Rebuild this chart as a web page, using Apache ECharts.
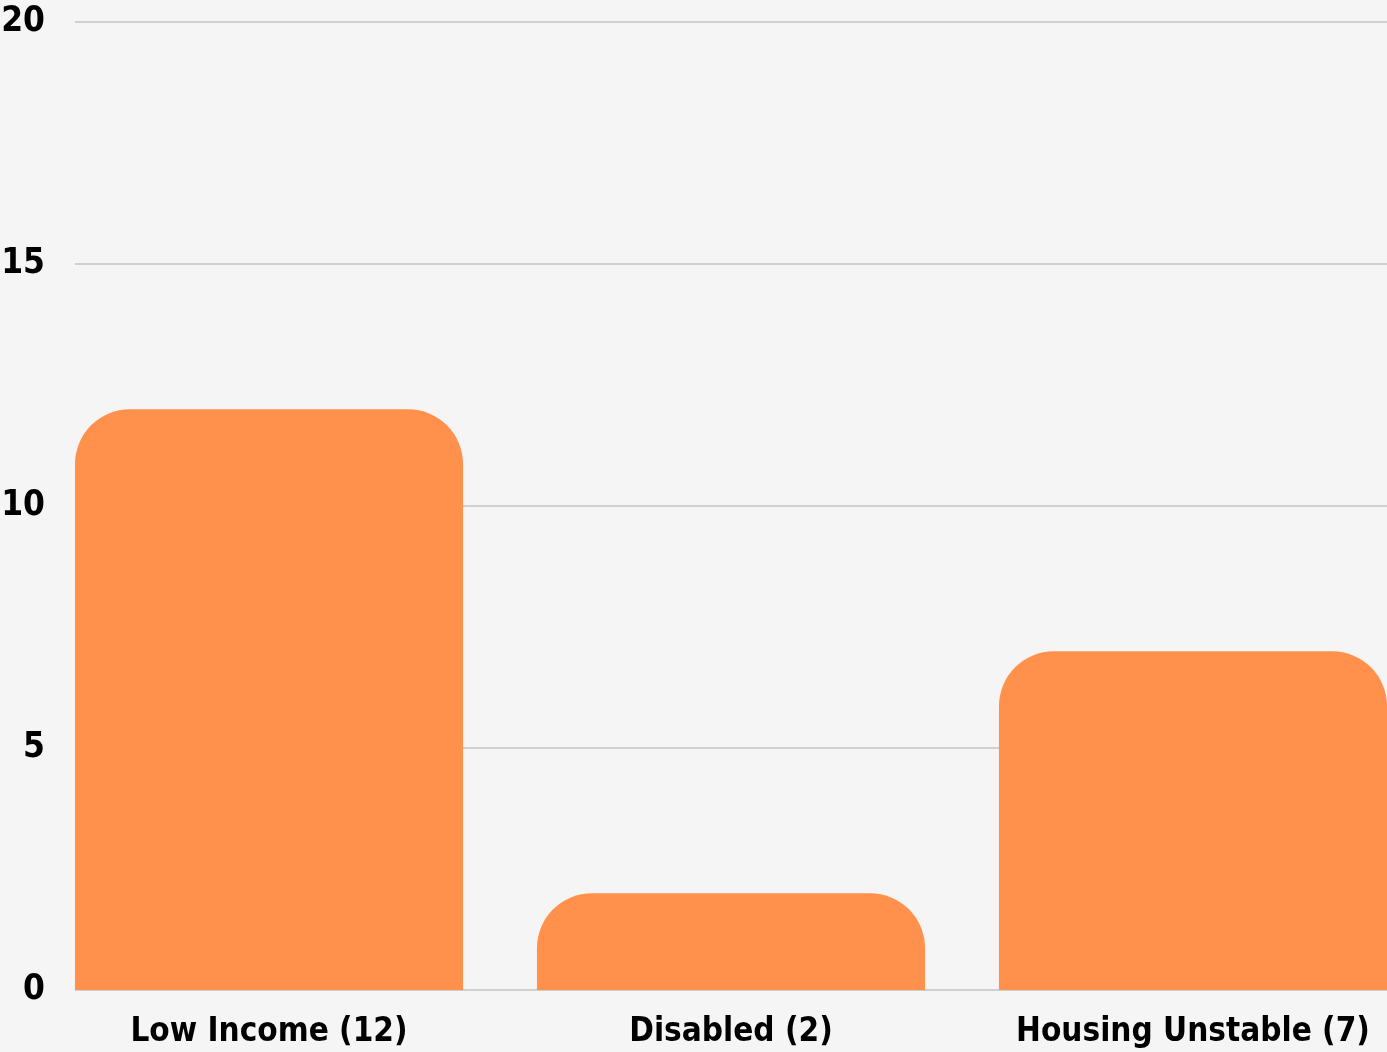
<!DOCTYPE html>
<html>
<head>
<meta charset="utf-8">
<script src="https://cdn.jsdelivr.net/npm/echarts@6/dist/echarts.min.js"></script>
<style>
  html, body { margin: 0; padding: 0; background: #f5f5f5; }
  #chart { width: 1387px; height: 1052px; }
</style>
</head>
<body>
<div id="chart"></div>
<script>
const categories = ['Low Income (12)', 'Disabled (2)', 'Housing Unstable (7)'];
const counts = [12, 2, 7];
const yTicks = [0, 5, 10, 15, 20];

const labelFont = "'DejaVu Sans Condensed', 'Liberation Sans Narrow', sans-serif";

let chart = echarts.init(document.getElementById('chart'));
chart.setOption({
  backgroundColor: '#f5f5f5',
  animation: false,
  // grid 0 holds the value axis + gridlines, grid 1 holds the bars
  // (bars in the original run flush to both edges of the plot)
  grid: [
    { top: 22, left: 75, right: 0, bottom: 62, containLabel: false, outerBoundsMode: 'none' },
    { top: 22, left: 38, right: -37, bottom: 62, containLabel: false, outerBoundsMode: 'none' }
  ],
  xAxis: [
    {
      gridIndex: 0,
      type: 'category',
      data: categories,
      show: false
    },
    {
      gridIndex: 1,
      type: 'category',
      data: categories,
      axisLine: { show: false },
      axisTick: { show: false },
      axisLabel: {
        interval: 0,
        color: '#000',
        fontFamily: labelFont,
        fontWeight: 'bold',
        fontSize: 33,
        margin: 26
      }
    }
  ],
  yAxis: [
    {
      gridIndex: 0,
      type: 'value',
      min: yTicks[0],
      max: yTicks[yTicks.length - 1],
      interval: 5,
      axisLine: { show: false },
      axisTick: { show: false },
      axisLabel: {
        color: '#000',
        fontFamily: labelFont,
        fontWeight: 'bold',
        fontSize: 35,
        margin: 30
      },
      splitLine: {
        lineStyle: { color: '#d0d0d0', width: 2 }
      }
    },
    {
      gridIndex: 1,
      type: 'value',
      min: yTicks[0],
      max: yTicks[yTicks.length - 1],
      interval: 5,
      show: false,
      splitLine: { show: false }
    }
  ],
  series: [
    {
      type: 'bar',
      xAxisIndex: 1,
      yAxisIndex: 1,
      data: counts,
      barCategoryGap: '16%',
      itemStyle: {
        color: '#ff914d',
        borderRadius: [55, 55, 0, 0]
      }
    }
  ]
});
</script>
</body>
</html>
